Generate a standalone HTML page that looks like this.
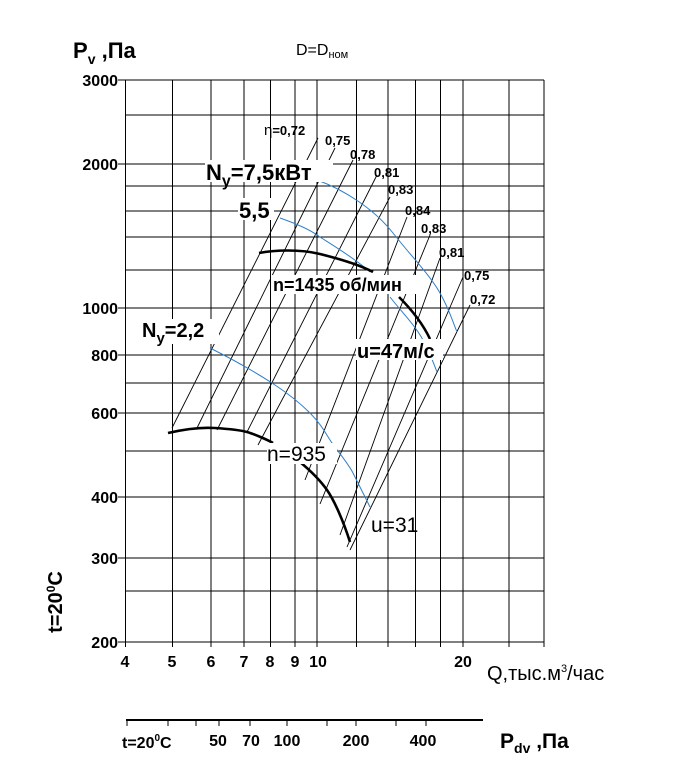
<!DOCTYPE html>
<html><head><meta charset="utf-8"><style>
body{margin:0;background:#fff}
svg{display:block}
text{font-family:"Liberation Sans",Arial,sans-serif;fill:#000}
.b{font-weight:bold}
</style></head><body>
<svg width="693" height="784" viewBox="0 0 693 784" xmlns="http://www.w3.org/2000/svg">
<g stroke="#000" stroke-width="1" fill="none">
<line x1="118" y1="80" x2="544" y2="80"/>
<line x1="125" y1="115" x2="544" y2="115"/>
<line x1="118" y1="164" x2="544" y2="164"/>
<line x1="125" y1="186" x2="544" y2="186"/>
<line x1="125" y1="211" x2="544" y2="211"/>
<line x1="125" y1="237" x2="544" y2="237"/>
<line x1="125" y1="270" x2="544" y2="270"/>
<line x1="118" y1="308" x2="544" y2="308"/>
<line x1="118" y1="355" x2="544" y2="355"/>
<line x1="125" y1="383" x2="544" y2="383"/>
<line x1="118" y1="413" x2="544" y2="413"/>
<line x1="125" y1="451" x2="544" y2="451"/>
<line x1="118" y1="497" x2="544" y2="497"/>
<line x1="118" y1="558" x2="544" y2="558"/>
<line x1="125" y1="591" x2="544" y2="591"/>
<line x1="118" y1="642" x2="544" y2="642"/>
<line x1="125.5" y1="80" x2="125.5" y2="647"/>
<line x1="172.5" y1="80" x2="172.5" y2="647"/>
<line x1="211" y1="80" x2="211" y2="647"/>
<line x1="244" y1="80" x2="244" y2="647"/>
<line x1="270.5" y1="80" x2="270.5" y2="647"/>
<line x1="295" y1="80" x2="295" y2="647"/>
<line x1="317" y1="80" x2="317" y2="647"/>
<line x1="356.5" y1="80" x2="356.5" y2="647"/>
<line x1="388" y1="80" x2="388" y2="647"/>
<line x1="415.5" y1="80" x2="415.5" y2="647"/>
<line x1="440.5" y1="80" x2="440.5" y2="647"/>
<line x1="463" y1="80" x2="463" y2="647"/>
<line x1="509" y1="80" x2="509" y2="647"/>
<line x1="544" y1="80" x2="544" y2="647"/>
</g>
<g stroke="#000" stroke-width="0.9" fill="none">
<line x1="172" y1="428" x2="318" y2="138"/>
<line x1="197" y1="428" x2="335" y2="148"/>
<line x1="217" y1="430" x2="353" y2="160"/>
<line x1="247" y1="432" x2="377" y2="175"/>
<line x1="258" y1="445" x2="390" y2="197"/>
<line x1="305" y1="480" x2="407" y2="217"/>
<line x1="320" y1="504" x2="430" y2="235"/>
<line x1="340" y1="535" x2="440" y2="258"/>
<line x1="347" y1="547" x2="463" y2="277"/>
<line x1="350" y1="550" x2="470" y2="305"/>
</g>
<g stroke="#2f7fc8" stroke-width="1" fill="none">
<path d="M317,180 C345,190 375,210 393,233 S430,275 440,293 S452,320 457,332"/>
<path d="M280,218 C300,225 310,230 317,235 S355,258 370,272 M390,297 C400,310 415,325 423,340 S433,362 437,372"/>
<path d="M210,348 C230,358 255,372 272,383 S300,403 310,413 S325,432 330,440 S348,463 353,473 S364,495 370,507"/>
</g>
<g stroke="#000" stroke-width="2.6" fill="none">
<path d="M259,253 C275,250 300,249 320,254 S360,265 373,272"/>
<path d="M399,297 C410,308 422,322 430,339"/>
<path d="M168,433 C185,429 200,427 215,428 S240,430 247,432 S268,440 273,443"/>
<path d="M300,462 C312,472 320,480 327,490 S343,520 350,542"/>
</g>
<g fill="#fff">
<rect x="205" y="160" width="128" height="22"/>
<rect x="238" y="198" width="36" height="22"/>
<rect x="271" y="275" width="152" height="19"/>
<rect x="356" y="339" width="87" height="21"/>
<rect x="142" y="319" width="77" height="25"/>
<rect x="267" y="443" width="70" height="21"/>
</g>
<text x="296" y="55" font-size="16">D=D<tspan font-size="11" dy="3">ном</tspan></text>
<text x="73" y="58" font-size="22" class="b">P<tspan font-size="14" dy="6">v</tspan><tspan dy="-6"> ,Па</tspan></text>
<g font-size="16" class="b" text-anchor="end">
<text x="118" y="86">3000</text>
<text x="118" y="170">2000</text>
<text x="118" y="314">1000</text>
<text x="118" y="361">800</text>
<text x="118" y="419">600</text>
<text x="118" y="503">400</text>
<text x="118" y="564">300</text>
<text x="118" y="648">200</text>
</g>
<g font-size="16" class="b" text-anchor="middle">
<text x="125" y="667">4</text>
<text x="172" y="667">5</text>
<text x="211" y="667">6</text>
<text x="244" y="667">7</text>
<text x="270" y="667">8</text>
<text x="295" y="667">9</text>
<text x="318" y="667">10</text>
<text x="463" y="667">20</text>
</g>
<text x="487" y="680" font-size="20">Q,тыс.м<tspan font-size="11" dy="-8">3</tspan><tspan dy="8">/час</tspan></text>
<text transform="translate(62,602) rotate(-90)" text-anchor="middle" font-size="20" class="b">t=20<tspan font-size="12" dy="-7">0</tspan><tspan dy="7">C</tspan></text>
<g stroke="#000" fill="none">
<line x1="126" y1="720" x2="483" y2="720" stroke-width="2"/>
<line x1="127" y1="720" x2="127" y2="726"/>
<line x1="168" y1="720" x2="168" y2="726"/>
<line x1="196" y1="720" x2="196" y2="726"/>
<line x1="219" y1="720" x2="219" y2="726"/>
<line x1="250" y1="720" x2="250" y2="726"/>
<line x1="287" y1="720" x2="287" y2="726"/>
<line x1="327" y1="720" x2="327" y2="726"/>
<line x1="356" y1="720" x2="356" y2="726"/>
<line x1="396" y1="720" x2="396" y2="726"/>
<line x1="426" y1="720" x2="426" y2="726"/>
</g>
<g font-size="16" class="b">
<text x="122" y="748">t=20<tspan font-size="10" dy="-7">0</tspan><tspan dy="7">C</tspan></text>
<text x="218" y="746" text-anchor="middle">50</text>
<text x="251" y="746" text-anchor="middle">70</text>
<text x="287" y="746" text-anchor="middle">100</text>
<text x="356" y="746" text-anchor="middle">200</text>
<text x="423" y="746" text-anchor="middle">400</text>
<text x="500" y="748" font-size="21">P<tspan font-size="14" dy="5">dv</tspan><tspan dy="-5"> ,Па</tspan></text>
</g>
<g class="b">
<text x="206" y="180" font-size="22">N<tspan font-size="16" dy="6">y</tspan><tspan dy="-6">=7,5кВт</tspan></text>
<text x="239" y="218" font-size="22">5,5</text>
<text x="273" y="291" font-size="18">n=1435 об/мин</text>
<text x="357" y="358" font-size="20">u=47м/с</text>
<text x="142" y="337" font-size="20">N<tspan font-size="15" dy="6">y</tspan><tspan dy="-6">=2,2</tspan></text>
</g>
<text x="267" y="461" font-size="21">n=935</text>
<text x="371" y="532" font-size="21">u=31</text>
<g class="b" font-size="13">
<text x="264" y="135"><tspan font-size="15" font-weight="normal">η</tspan>=0,72</text>
<text x="325" y="145">0,75</text>
<text x="350" y="159">0,78</text>
<text x="374" y="177">0,81</text>
<text x="388" y="194">0,83</text>
<text x="405" y="215">0,84</text>
<text x="421" y="233">0,83</text>
<text x="439" y="257">0,81</text>
<text x="464" y="280">0,75</text>
<text x="470" y="304">0,72</text>
</g>
</svg>
</body></html>
